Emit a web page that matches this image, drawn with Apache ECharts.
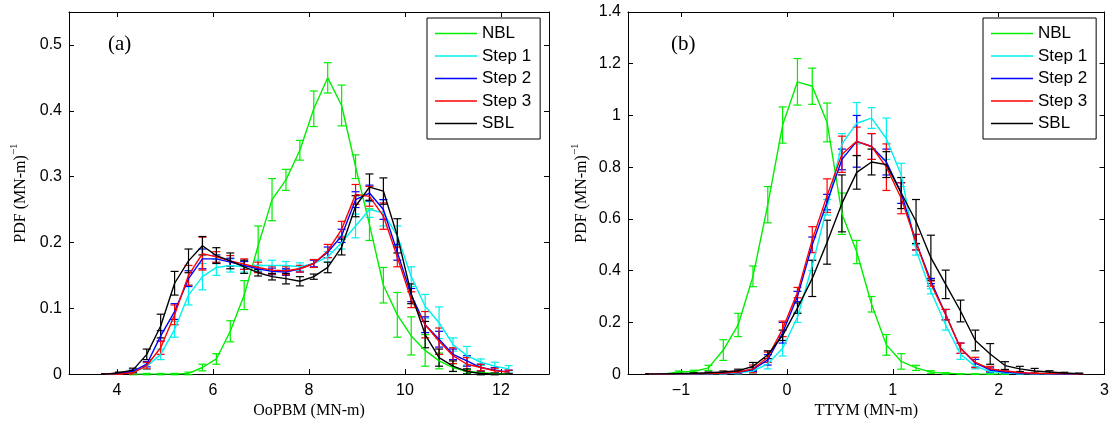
<!DOCTYPE html>
<html>
<head>
<meta charset="utf-8">
<script src="https://cdn.jsdelivr.net/npm/echarts@6/dist/echarts.min.js"></script>
<style>
  html, body { margin: 0; padding: 0; background: #fff; }
  #main { width: 1112px; height: 424px; }
</style>
</head>
<body>
<div id="main"></div>
<script>
// bin centres, panel (a) OoPBM and panel (b) TTYM
const xA = [3.75, 4.04, 4.33, 4.62, 4.91, 5.20, 5.49, 5.78, 6.07, 6.36, 6.65, 6.94, 7.23, 7.52, 7.81,
            8.10, 8.39, 8.68, 8.97, 9.26, 9.55, 9.84, 10.13, 10.42, 10.71, 11.00, 11.29, 11.58, 11.87, 12.16];
const xB = [-1.30, -1.16, -1.02, -0.88, -0.74, -0.60, -0.46, -0.32, -0.18, -0.04, 0.10, 0.24, 0.38, 0.52, 0.66,
            0.80, 0.94, 1.08, 1.22, 1.36, 1.50, 1.64, 1.78, 1.92, 2.06, 2.20, 2.34, 2.48, 2.62, 2.76];

// panel (a) PDF values
const nblA   = [null, null, 0, 0, 0, 0, 0.001, 0.01, 0.023, 0.065, 0.12, 0.195, 0.265, 0.295, 0.34,
                0.403, 0.45, 0.408, 0.315, 0.227, 0.135, 0.09, 0.058, 0.036, 0.02, 0.01, 0.004, 0.002, 0.001, 0];
const step1A = [0, 0.001, 0.003, 0.012, 0.03, 0.068, 0.12, 0.148, 0.162, 0.165, 0.163, 0.165, 0.165, 0.165, 0.163,
                0.168, 0.178, 0.2, 0.225, 0.25, 0.245, 0.21, 0.148, 0.103, 0.078, 0.045, 0.028, 0.018, 0.012, 0.008];
const step2A = [0, 0.001, 0.004, 0.015, 0.058, 0.095, 0.145, 0.175, 0.175, 0.17, 0.165, 0.16, 0.156, 0.155, 0.16,
                0.168, 0.185, 0.21, 0.265, 0.275, 0.25, 0.185, 0.12, 0.075, 0.053, 0.03, 0.02, 0.01, 0.006, 0.003];
const step3A = [0, 0, 0.002, 0.013, 0.04, 0.09, 0.15, 0.183, 0.178, 0.172, 0.167, 0.162, 0.158, 0.157, 0.16,
                0.168, 0.187, 0.22, 0.273, 0.27, 0.24, 0.178, 0.113, 0.075, 0.05, 0.028, 0.015, 0.01, 0.005, 0.003];
const sblA   = [0, 0.002, 0.006, 0.03, 0.073, 0.138, 0.172, 0.195, 0.18, 0.172, 0.163, 0.154, 0.148, 0.145, 0.141,
                0.148, 0.162, 0.193, 0.255, 0.284, 0.278, 0.21, 0.122, 0.06, 0.025, 0.012, 0.004, 0.001, 0, 0];

// panel (a) error bar half-widths
const nblAErr   = [0, 0, 0.001, 0.001, 0.001, 0.001, 0.002, 0.005, 0.008, 0.016, 0.022, 0.03, 0.032, 0.016, 0.015,
                   0.027, 0.023, 0.031, 0.018, 0.024, 0.027, 0.034, 0.029, 0.024, 0.012, 0.006, 0.003, 0.001, 0.001, 0];
const step1AErr = [0, 0.001, 0.002, 0.005, 0.008, 0.012, 0.015, 0.02, 0.012, 0.01, 0.008, 0.008, 0.008, 0.006, 0.006,
                   0.006, 0.008, 0.01, 0.018, 0.012, 0.02, 0.015, 0.015, 0.018, 0.024, 0.01, 0.014, 0.005, 0.006, 0.005];
const step2AErr = [0, 0.001, 0.002, 0.004, 0.008, 0.012, 0.012, 0.015, 0.006, 0.006, 0.006, 0.005, 0.005, 0.005, 0.005,
                   0.005, 0.008, 0.01, 0.012, 0.012, 0.015, 0.012, 0.01, 0.012, 0.012, 0.008, 0.008, 0.005, 0.004, 0.003];
const step3AErr = [0, 0, 0.002, 0.005, 0.01, 0.015, 0.015, 0.025, 0.008, 0.008, 0.008, 0.008, 0.006, 0.006, 0.005,
                   0.006, 0.01, 0.012, 0.015, 0.015, 0.02, 0.015, 0.012, 0.02, 0.02, 0.012, 0.01, 0.005, 0.004, 0.003];
const sblAErr   = [0, 0.001, 0.003, 0.008, 0.018, 0.018, 0.018, 0.014, 0.012, 0.012, 0.01, 0.005, 0.005, 0.008, 0.007,
                   0.004, 0.008, 0.012, 0.016, 0.02, 0.02, 0.026, 0.015, 0.02, 0.013, 0.008, 0.004, 0.002, 0.001, 0];

// panel (b) PDF values
const nblB   = [0, 0.001, 0.008, 0.01, 0.024, 0.093, 0.19, 0.378, 0.655, 0.963, 1.13, 1.113, 0.973, 0.62, 0.472,
                0.27, 0.113, 0.049, 0.024, 0.008, 0.003, 0.001, 0, 0, 0, null, null, null, null, null];
const step1B = [0, 0, 0, 0, 0.001, 0.002, 0.005, 0.012, 0.04, 0.1, 0.22, 0.42, 0.645, 0.89, 0.97,
                0.99, 0.91, 0.77, 0.48, 0.32, 0.19, 0.077, 0.03, 0.01, 0.005, 0.002, 0.001, 0, 0, 0];
const step2B = [0, 0, 0.001, 0.001, 0.002, 0.004, 0.007, 0.018, 0.055, 0.16, 0.3, 0.5, 0.665, 0.83, 0.9,
                0.88, 0.82, 0.7, 0.51, 0.36, 0.23, 0.1, 0.042, 0.016, 0.008, 0.004, 0.002, 0.001, 0, 0];
const step3B = [0, 0, 0.001, 0.001, 0.002, 0.004, 0.008, 0.02, 0.065, 0.175, 0.315, 0.52, 0.69, 0.85, 0.9,
                0.88, 0.8, 0.68, 0.51, 0.35, 0.23, 0.1, 0.045, 0.02, 0.012, 0.006, 0.003, 0.002, 0.001, 0];
const sblB   = [0, 0.001, 0.002, 0.003, 0.005, 0.008, 0.013, 0.03, 0.075, 0.15, 0.255, 0.37, 0.51, 0.66, 0.78,
                0.82, 0.81, 0.7, 0.59, 0.45, 0.347, 0.244, 0.13, 0.078, 0.033, 0.02, 0.012, 0.008, 0.004, 0.002];

// panel (b) error bar half-widths
const nblBErr   = [0, 0.001, 0.004, 0.005, 0.01, 0.04, 0.045, 0.04, 0.07, 0.07, 0.09, 0.07, 0.075, 0.08, 0.045,
                   0.03, 0.04, 0.03, 0.01, 0.005, 0.003, 0.001, 0, 0, 0, 0, 0, 0, 0, 0];
const step1BErr = [0, 0, 0, 0, 0.001, 0.002, 0.004, 0.008, 0.02, 0.03, 0.02, 0.02, 0.03, 0.04, 0.08,
                   0.04, 0.08, 0.045, 0.02, 0.01, 0.02, 0.02, 0.01, 0.005, 0.003, 0.002, 0.001, 0, 0, 0];
const step2BErr = [0, 0, 0, 0, 0.001, 0.002, 0.004, 0.008, 0.02, 0.04, 0.02, 0.03, 0.03, 0.04, 0.1,
                   0.05, 0.05, 0.04, 0.03, 0.01, 0.02, 0.02, 0.015, 0.008, 0.004, 0.002, 0.001, 0, 0, 0];
const step3BErr = [0, 0, 0, 0, 0.001, 0.002, 0.004, 0.015, 0.02, 0.03, 0.02, 0.05, 0.065, 0.07, 0.055,
                   0.05, 0.09, 0.06, 0.03, 0.01, 0.02, 0.02, 0.02, 0.01, 0.005, 0.003, 0.002, 0.001, 0, 0];
const sblBErr   = [0, 0, 0.001, 0.002, 0.003, 0.004, 0.006, 0.015, 0.015, 0.02, 0.02, 0.07, 0.085, 0.11, 0.065,
                   0.05, 0.05, 0.06, 0.085, 0.087, 0.055, 0.042, 0.04, 0.04, 0.015, 0.01, 0.01, 0.005, 0.003, 0.002];

const names  = ['NBL', 'Step 1', 'Step 2', 'Step 3', 'SBL'];
const colors = ['#00ee00', '#00f0f0', '#0000ff', '#ff0000', '#000000'];
const ticksA = [4, 6, 8, 10, 12];
const ticksB = [-1, 0, 1, 2, 3];

const SANS = 'Liberation Sans';
const SERIF = 'Liberation Serif';

function errRender(params, api) {
    const x = api.value(0);
    const lo = api.coord([x, api.value(1)]);
    const hi = api.coord([x, api.value(2)]);
    const c = api.visual('color');
    const w = 4;
    const st = { stroke: c, lineWidth: 1.2 };
    return {
        type: 'group',
        children: [
            { type: 'line', shape: { x1: lo[0], y1: lo[1], x2: hi[0], y2: hi[1] }, style: st },
            { type: 'line', shape: { x1: lo[0] - w, y1: lo[1], x2: lo[0] + w, y2: lo[1] }, style: st },
            { type: 'line', shape: { x1: hi[0] - w, y1: hi[1], x2: hi[0] + w, y2: hi[1] }, style: st }
        ]
    };
}

function makeSeries(gi, xs, vals, errs) {
    const out = [];
    vals.forEach((v, k) => {
        out.push({
            name: names[k], type: 'line', xAxisIndex: gi * 2, yAxisIndex: gi * 2,
            data: xs.map((x, i) => [x, v[i]]),
            symbol: 'none', showSymbol: false, color: colors[k],
            lineStyle: { width: 1.4, color: colors[k] }
        });
        out.push({
            name: names[k] + ' err', type: 'custom', xAxisIndex: gi * 2, yAxisIndex: gi * 2,
            renderItem: errRender, color: colors[k],
            data: xs.map((x, i) => v[i] == null ? null : [x, v[i] - errs[k][i], v[i] + errs[k][i]]).filter(d => d)
        });
    });
    return out;
}

function xAxes(gi, min, max, ticks, name) {
    const base = {
        type: 'value', gridIndex: gi, min: min, max: max,
        axisLine: { onZero: false, lineStyle: { color: '#000', width: 1 } },
        splitLine: { show: false },
        axisTick: { inside: true, length: 5, lineStyle: { color: '#000' }, customValues: ticks }
    };
    return [
        Object.assign({}, base, {
            position: 'bottom', name: name, nameLocation: 'middle', nameGap: 25,
            nameTextStyle: { fontFamily: SERIF, fontSize: 16, color: '#000' },
            axisLabel: {
                customValues: ticks, fontFamily: SANS, fontSize: 16, color: '#000', margin: 8,
                formatter: v => (v < 0 ? '\u2212' + Math.abs(v) : String(v))
            }
        }),
        Object.assign({}, base, { position: 'top', axisLabel: { show: false } })
    ];
}

function yAxes(gi, max, interval, gap) {
    const base = {
        type: 'value', gridIndex: gi, min: 0, max: max, interval: interval,
        axisLine: { show: true, onZero: false, lineStyle: { color: '#000', width: 1 } },
        splitLine: { show: false },
        axisTick: { show: true, inside: true, length: 5, lineStyle: { color: '#000' } }
    };
    return [
        Object.assign({}, base, {
            position: 'left', name: '{a|PDF (MN-m)}{s|\u22121}', nameLocation: 'middle', nameGap: gap,
            nameTextStyle: {
                color: '#000',
                rich: {
                    a: { fontFamily: SERIF, fontSize: 16, lineHeight: 20, verticalAlign: 'bottom' },
                    s: { fontFamily: SERIF, fontSize: 11, lineHeight: 20, verticalAlign: 'top' }
                }
            },
            axisLabel: {
                fontFamily: SANS, fontSize: 16, color: '#000', margin: 7,
                formatter: v => String(Math.round(v * 10) / 10),
                showMaxLabel: max !== 0.55
            }
        }),
        Object.assign({}, base, { position: 'right', axisLabel: { show: false } })
    ];
}

function legend(left) {
    return {
        data: names, orient: 'vertical', left: left, top: 18,
        icon: 'rect', itemWidth: 42, itemHeight: 1.6, itemGap: 5.5, itemTextGap: 6,
        padding: [7, 9, 7, 8],
        borderColor: '#000', borderWidth: 1, backgroundColor: '#fff',
        textStyle: { fontFamily: SANS, fontSize: 17, color: '#000', lineHeight: 17 },
        selectedMode: false
    };
}

const chart = echarts.init(document.getElementById('main'));
chart.setOption({
    animation: false,
    backgroundColor: '#fff',
    title: [
        { text: '(a)', left: 103, top: 29, textStyle: { fontFamily: SERIF, fontSize: 21, fontWeight: 'normal', color: '#000' } },
        { text: '(b)', left: 666, top: 29, textStyle: { fontFamily: SERIF, fontSize: 21, fontWeight: 'normal', color: '#000' } }
    ],
    grid: [
        { left: 69, top: 12, width: 480, height: 365 },
        { left: 628, top: 12, width: 478, height: 365 }
    ],
    legend: [legend(427), legend(983)],
    xAxis: [].concat(xAxes(0, 3, 13, ticksA, 'OoPBM (MN-m)'), xAxes(1, -1.5, 3, ticksB, 'TTYM (MN-m)')),
    yAxis: [].concat(yAxes(0, 0.55, 0.1, 40), yAxes(1, 1.4, 0.2, 38)),
    series: [].concat(
        makeSeries(0, xA, [nblA, step1A, step2A, step3A, sblA], [nblAErr, step1AErr, step2AErr, step3AErr, sblAErr]),
        makeSeries(1, xB, [nblB, step1B, step2B, step3B, sblB], [nblBErr, step1BErr, step2BErr, step3BErr, sblBErr])
    )
});
</script>
</body>
</html>
